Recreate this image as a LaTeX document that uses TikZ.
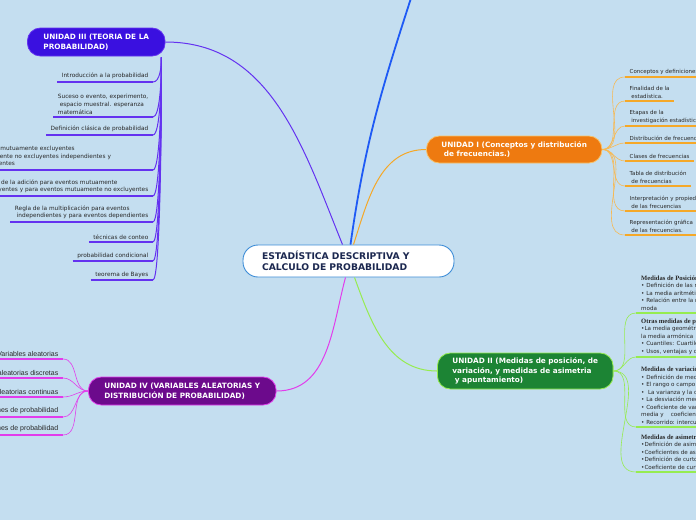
\documentclass[tikz,border=0pt]{standalone}
\usepackage{fontspec}
\setmainfont{DejaVu Sans}
\newfontfamily\headfont{Liberation Serif}
\newfontfamily\leaffont{Liberation Sans}
\usepackage{tikz}
\usetikzlibrary{positioning,calc}
\usepackage{xcolor}
\definecolor{sky}{RGB}{196,222,240}
\definecolor{navy}{RGB}{28,40,80}
\definecolor{rim}{RGB}{60,140,215}
\definecolor{blu}{RGB}{30,90,245}
\definecolor{oru}{RGB}{238,122,16}
\definecolor{orl}{RGB}{245,168,40}
\definecolor{grn}{RGB}{28,132,52}
\definecolor{grl}{RGB}{150,236,80}
\definecolor{vio}{RGB}{58,16,224}
\definecolor{vil}{RGB}{100,50,240}
\definecolor{plum}{RGB}{108,10,140}
\definecolor{pll}{RGB}{226,60,236}
\definecolor{ink}{RGB}{40,40,40}
\tikzset{
  rootbox/.style={draw=rim,line width=0.9pt,fill=white,rounded corners=15pt,
    text=navy,font=\bfseries\fontsize{9.2}{11}\selectfont,align=left},
  unit/.style={rounded corners=13pt,line width=0.8pt,text=white,anchor=west,
    font=\bfseries\fontsize{7.3}{9.6}\selectfont,align=left},
  leaf/.style={text=ink,font=\fontsize{5.5}{7.4}\selectfont,inner xsep=4.5pt,
    inner ysep=2.6pt,align=left},
  leafL/.style={leaf,anchor=south east,font=\fontsize{5.8}{7.6}\selectfont},
  leafR/.style={leaf,anchor=south west},
  leafM/.style={leaf,anchor=south west,inner xsep=5pt,font=\fontsize{5.6}{7.5}\selectfont},
  leafV/.style={leaf,anchor=south east,font=\leaffont\fontsize{7}{8}\selectfont},
  head/.style={font=\headfont\bfseries\fontsize{6.6}{7.5}\selectfont},
  ul/.style={line width=1.7pt},
  twig/.style={line width=0.6pt},
  limb/.style={line width=1pt},
}
\newcommand{\hd}[1]{{\headfont\bfseries\fontsize{6.6}{7.5}\selectfont #1}}

\begin{document}
\begin{tikzpicture}[x=1pt,y=-1pt]
  \fill[sky] (0,0) rectangle (696,520);
  \useasboundingbox (0,0) rectangle (696,520);
  \clip (0,0) rectangle (696,520);
  % centre
  \node[rootbox,minimum width=211pt,minimum height=32pt,inner xsep=19pt,
    text width=173pt] (stat) at (348.5,261)
    {ESTADÍSTICA DESCRIPTIVA Y\\CALCULO DE PROBABILIDAD};
  % units
  \node[unit,fill=oru,draw=orl!70,minimum height=27pt,inner xsep=15pt]
    (u1) at (426,149.5) {UNIDAD I (Conceptos y distribución\\~de frecuencias.)};
  \node[unit,fill=grn,draw=grl,minimum height=36pt,inner xsep=15pt]
    (u2) at (437,371)
    {UNIDAD II (Medidas de posición, de\\variación, y medidas de asimetria\\~y apuntamiento)};
  \node[unit,fill=vio,draw=vil,minimum height=28pt,inner xsep=16pt]
    (u3) at (27,42) {UNIDAD III (TEORIA DE LA\\PROBABILIDAD)};
  \node[unit,fill=plum,draw=pll,minimum height=28pt,inner xsep=16pt]
    (u4) at (88,391) {UNIDAD IV (VARIABLES ALEATORIAS Y\\DISTRIBUCIÓN DE PROBABILIDAD)};
  \coordinate (off) at (413,-8);
  \draw[blu,line width=1.8pt] ($(stat.north)+(2,0)$) to[out=82,in=-108] (off);
  \draw[limb,orl] ($(stat.north)+(5,0)$) to[out=72,in=180] (u1.west);
  \draw[limb,vil] ($(stat.north)+(-6,0)$) to[out=112,in=0] (u3.east);
  \draw[limb,pll] ($(stat.south)+(-3,0)$) to[out=-105,in=0] (u4.east);
  \draw[limb,grl] ($(stat.south)+(6,0)$) to[out=-70,in=180] (u2.west);
  % unidad I
  \node[leafR] (c1) at (625,77) {Conceptos y definiciones};
  \node[leafR] (c2) at (625,101) {Finalidad de la\\~estadística.};
  \node[leafR] (c3) at (625,126) {Etapas de la\\~investigación estadística};
  \node[leafR] (c4) at (625,143) {Distribución de frecuencias};
  \node[leafR] (c5) at (625,161) {Clases de frecuencias};
  \node[leafR] (c6) at (625,186) {Tabla de distribución\\~de frecuencias};
  \node[leafR] (c7) at (625,211) {Interpretación y propiedades\\~de las frecuencias};
  \node[leafR] (c8) at (625,235) {Representación gráfica\\~de las frecuencias.};
  \foreach \c in {c1,c2,c3,c4,c5,c6,c7,c8}{
    \draw[twig,orl!80] (u1.east) to[out=0,in=180] (\c.south west);
    \draw[ul,orl] (\c.south west) -- (\c.south east);
  }
  % unidad II
  \node[leafM] (m1) at (636,313)
    {\hd{Medidas de Posición}\\
     • Definición de las medidas de posición\\
     • La media aritmética, mediana y moda\\
     • Relación entre la media, mediana y\\moda};
  \node[leafM] (m2) at (636,357)
    {\hd{Otras medidas de posición}\\
     •La media geométrica y\\la media armónica\\
     • Cuantiles: Cuartiles, deciles y percentiles\\
     • Usos, ventajas y desventajas};
  \node[leafM] (m3) at (636,427)
    {\hd{Medidas de variación}\\
     • Definición de medidas de variación\\
     • El rango o campo de variación\\
     •~ La varianza y la desviación estándar\\
     • La desviación media\\
     • Coeficiente de variación de la\\
     media y~~~~coeficiente de variación\\
     • Recorrido: intercuartílico};
  \node[leafM] (m4) at (636,472)
    {\hd{Medidas de asimetría y curtosis}\\
     •Definición de asimetría\\
     •Coeficientes de asimetría\\
     •Definición de curtosis\\
     •Coeficiente de curtosis};
  \foreach \m in {m1,m2,m3,m4}{
    \draw[twig,grl] (u2.east) to[out=0,in=180] (\m.south west);
    \draw[ul,grl] (\m.south west) -- ($(\m.south west)+(80,0)$);
  }
  % unidad III
  \coordinate (hub) at ($(u3.south east)+(-4,1)$);
  \node[leafL] (p1) at (153,82) {Introducción a la probabilidad};
  \node[leafL] (p2) at (153,117) {Suceso o evento, experimento,\\~espacio muestral. esperanza\\matemática};
  \node[leafL] (p3) at (153,135) {Definición clásica de probabilidad};
  \node[leafL,text width=173pt] (p4) at (153,170)
    {Eventos mutuamente excluyentes\\mutuamente no excluyentes independientes y\\dependientes};
  \node[leafL] (p5) at (153,196)
    {Regla de la adición para eventos mutuamente\\excluyentes y para eventos mutuamente no excluyentes};
  \node[leafL] (p6) at (153,222)
    {Regla de la multiplicación para eventos\\~independientes y para eventos dependientes};
  \node[leafL] (p7) at (153,242) {técnicas de conteo};
  \node[leafL] (p8) at (153,261) {probabilidad condicional};
  \node[leafL] (p9) at (153,280) {teorema de Bayes};
  \foreach \p in {p1,p2,p3,p4,p5,p6,p7,p8,p9}{
    \draw[limb,vil] (hub) to[out=-90,in=0,out looseness=0.9,in distance=7pt] (\p.south east);
    \draw[ul,vil] (\p.south west) -- (\p.south east);
  }
  % unidad IV
  \node[leafV] (v1) at (63,359) {Variables aleatorias};
  \node[leafV] (v2) at (63,378) {Variables aleatorias discretas};
  \node[leafV] (v3) at (63,397) {Variables aleatorias continuas};
  \node[leafV] (v4) at (63,417) {Funciones de probabilidad};
  \node[leafV] (v5) at (63,435) {Distribuciones de probabilidad};
  \foreach \v in {v1,v2,v3,v4,v5}{
    \draw[twig,pll] (u4.west) to[out=180,in=0] (\v.south east);
    \draw[ul,pll] (\v.south west) -- (\v.south east);
  }
\end{tikzpicture}
\end{document}
